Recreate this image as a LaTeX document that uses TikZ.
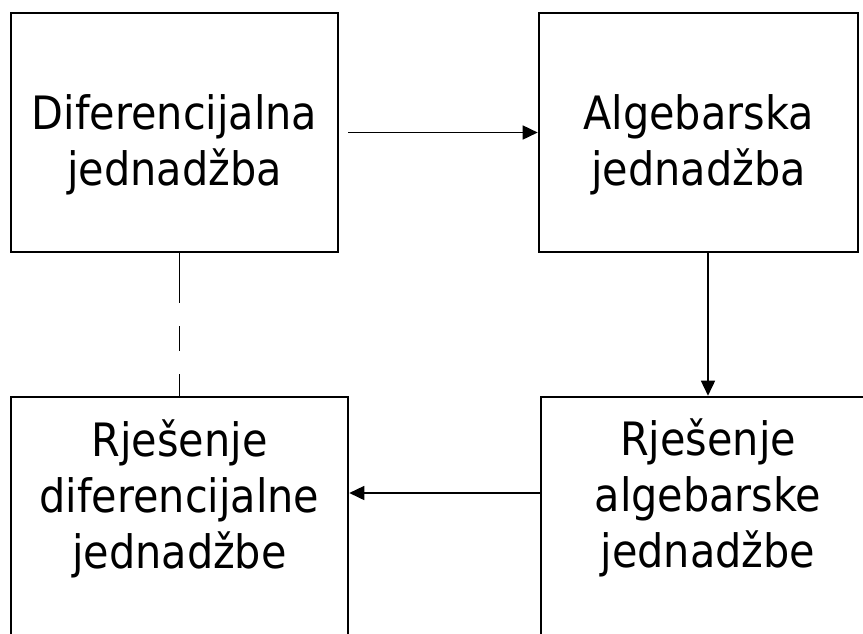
\documentclass[tikz,border=0pt]{standalone}
\usepackage{fontspec}
\setmainfont{DejaVu Sans Condensed}
\usetikzlibrary{arrows.meta}
\begin{document}
\begin{tikzpicture}[x=1pt,y=-1pt,
  boxst/.style={draw, line width=2.6pt, rectangle, inner sep=0pt},
  txt/.style={align=center, inner sep=0pt, anchor=base, font=\fontsize{46}{56}\selectfont},
  conn/.style={line width=1.6pt},
  arr/.style={conn, -{Triangle[length=15pt,width=14pt]}},
  dashline/.style={line width=1.7pt, dash pattern=on 50pt off 23pt on 25pt off 23pt}]
\clip (0,0) rectangle (863,633);
\fill[white] (0,0) rectangle (863,633);
\node[boxst, minimum width=327pt, minimum height=239pt] (A) at (174.5,132.5) {};
\node[boxst, minimum width=319pt, minimum height=239pt] (B) at (698.5,132.5) {};
\node[boxst, minimum width=337pt, minimum height=303pt] (C) at (179.5,548.5) {};
\node[boxst, minimum width=334pt, minimum height=303pt] (D) at (708,548.5) {};
\node[txt] (tA) at (174.5,185) {Diferencijalna\\jednadžba};
\node[txt] (tB) at (698.5,185) {Algebarska\\jednadžba};
\node[txt] (tC) at (179.5,568) {Rješenje\\diferencijalne\\jednadžbe};
\node[txt] (tD) at (708,567) {Rješenje\\algebarske\\jednadžbe};
\draw[arr] ([xshift=9pt]A.east) -- (B.west);
\draw[arr] (B.south -| D.north) -- (D.north);
\draw[arr] ([yshift=55.5pt]D.west) -- ([yshift=55.5pt]C.east);
\draw[dashline] (A.south -| C.north) -- (C.north);
\end{tikzpicture}
\end{document}
